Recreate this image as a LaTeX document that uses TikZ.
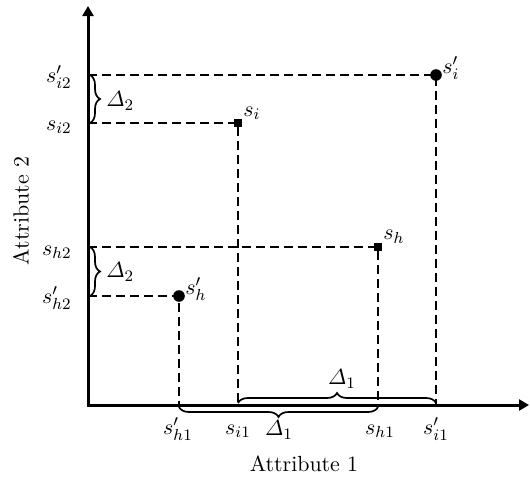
\documentclass[tikz,border=0pt]{standalone}
\usepackage{amsmath}
\usetikzlibrary{arrows.meta,decorations.pathreplacing}
\begin{document}
\begin{tikzpicture}[x=0.5pt,y=-0.5pt,
  axisline/.style={line width=1.5pt,-{Triangle[length=5pt,width=5.5pt]}},
  guide/.style={line width=0.75pt, dash pattern=on 4.5pt off 2.5pt},
  bracestyle/.style={decorate, decoration={brace,amplitude=5pt}, line width=0.85pt},
  sqpt/.style={rectangle, fill=black, inner sep=0pt, minimum size=3.6pt},
  rdpt/.style={circle, fill=black, inner sep=0pt, minimum size=5.8pt},
  lbl/.style={inner sep=0pt, font=\fontsize{10.95}{13.6}\selectfont}]
\useasboundingbox (0,0) rectangle (530,477);

% axes
\coordinate (o) at (88,405);
\coordinate (ytop) at (88,6);
\coordinate (xend) at (529,405);

% axis points
\coordinate (si2) at (88,123);
\coordinate (sip2) at (88,75);
\coordinate (sh2) at (88,247);
\coordinate (shp2) at (88,296);
\coordinate (si1) at (238,405);
\coordinate (sip1) at (436,405);
\coordinate (sh1) at (378,405);
\coordinate (shp1) at (179,405);

% points
\coordinate (psi) at (238,123);
\coordinate (psip) at (436,75);
\coordinate (psh) at (378,247);
\coordinate (pshp) at (179,296);

% dashed guides
\draw[guide] (sip2) -- (psip) -- (sip1);
\draw[guide] (si2) -- (psi) -- (si1);
\draw[guide] (sh2) -- (psh) -- (sh1);
\draw[guide] (shp2) -- (pshp) -- (shp1);

\draw[axisline] ([yshift=0.75pt]o) -- (ytop);
\draw[axisline] ([xshift=-0.75pt]o) -- (xend);

\node[sqpt] (ni) at (psi) {};
\node[rdpt] (nip) at (psip) {};
\node[sqpt] (nh) at (psh) {};
\node[rdpt] (nhp) at (pshp) {};

% point labels
\node[lbl, anchor=base west] (lsi) at (243,116.5) {$s_i$};
\node[lbl, anchor=base west] (lsip) at (442,73) {$s'_i$};
\node[lbl, anchor=base west] (lsh) at (383,239.5) {$s_h$};
\node[lbl, anchor=base west] (lshp) at (185,294) {$s'_h$};

% y labels
\node[lbl, anchor=base east] (lsip2) at (72,82) {$s'_{i2}$};
\node[lbl, anchor=base east] (lsi2) at (72,130) {$s_{i2}$};
\node[lbl, anchor=base east] (lsh2) at (72,255) {$s_{h2}$};
\node[lbl, anchor=base east] (lshp2) at (72,303) {$s'_{h2}$};

% x labels
\node[lbl, anchor=base] (lshp1) at (178,434) {$s'_{h1}$};
\node[lbl, anchor=base] (lsi1) at (238,434) {$s_{i1}$};
\node[lbl, anchor=base] (lsh1) at (380,434) {$s_{h1}$};
\node[lbl, anchor=base] (lsip1) at (436,434) {$s'_{i1}$};

% braces
\draw[bracestyle] (90,75) -- (90,123);
\draw[bracestyle] (90,247) -- (90,296);
\draw[bracestyle] (238,403) -- (436,403);
\draw[bracestyle] (378,407) -- (179,407);

\node[lbl, anchor=west] (d2a) at (106,101) {$\varDelta_2$};
\node[lbl, anchor=west] (d2b) at (106,272) {$\varDelta_2$};
\node[lbl] (d1a) at (342,379) {$\varDelta_1$};
\node[lbl] (d1b) at (279,430) {$\varDelta_1$};

% axis titles
\node[lbl] (ax1) at (304,464) {Attribute 1};
\node[lbl, rotate=90] (ax2) at (21,211) {Attribute 2};
\end{tikzpicture}
\end{document}
